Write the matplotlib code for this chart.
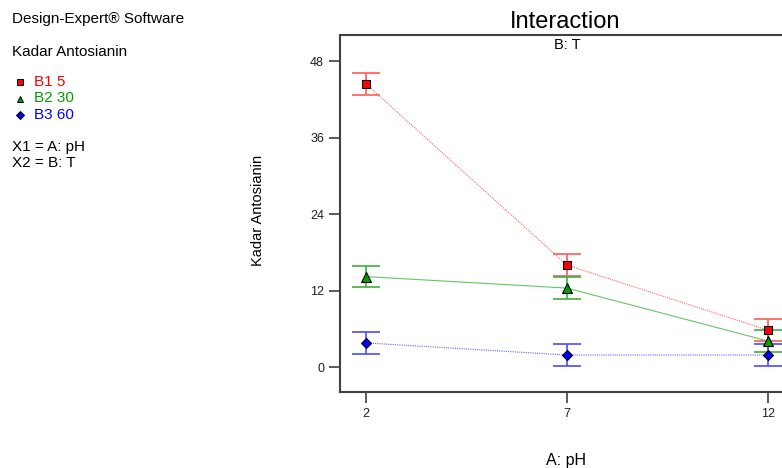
import matplotlib.pyplot as plt
import numpy as np

plt.rcParams['font.family'] = ['Liberation Sans', 'DejaVu Sans']

# data
ph = [2, 7, 12]
b1_5 = [44.4, 16.0, 5.8]
b2_30 = [14.2, 12.4, 4.1]
b3_60 = [3.8, 1.9, 1.9]
err = 1.7
yticks = [0, 12, 24, 36, 48]

series = [
    ('B1 5', b1_5, 's', '#ff0000', '#ff5a5a', (0, (1, 1))),
    ('B2 30', b2_30, '^', '#00a000', '#40b040', '-'),
    ('B3 60', b3_60, 'D', '#0000ff', '#4a4aff', (0, (1, 1))),
]
msize = {'s': 6, '^': 7, 'D': 5}

fig = plt.figure(figsize=(7.82, 4.68), dpi=100)
W, H = 782, 468
ax = fig.add_axes([340 / W, (H - 392) / H, (794 - 340) / W, (392 - 35) / H])

for name, vals, mk, col, ecol, ls in series:
    ax.plot(ph, vals, linestyle=ls, color=col, linewidth=0.8, alpha=0.6, zorder=2)
    ax.errorbar(ph, vals, yerr=err, fmt='none', ecolor=ecol, elinewidth=1.2,
                capsize=10, capthick=1.2, zorder=3)
    ax.plot(ph, vals, linestyle='none', marker=mk, markersize=msize[mk],
            markerfacecolor=col, markeredgecolor='black', markeredgewidth=0.8, zorder=4)

ax.set_xlim(1.35, 12.65)
ax.set_ylim(-3.9, 52.1)
ax.set_xticks(ph)
ax.set_yticks(yticks)
for s in ax.spines.values():
    s.set_color('#404040')
    s.set_linewidth(1.5)
ax.tick_params(axis='both', direction='out', length=8, width=1.2, color='#404040',
               labelsize=9, labelcolor='#202020')
ax.tick_params(axis='y', pad=3.5)

fig.text(565 / W, 1 - 22 / H, 'Interaction', ha='center', va='center', fontsize=17)
fig.text(567 / W, 1 - 45 / H, 'B: T', ha='center', va='center', fontsize=10.5)
fig.text(566 / W, 1 - 460 / H, 'A: pH', ha='center', va='center', fontsize=11.5)
fig.text(258 / W, 1 - 210 / H, 'Kadar Antosianin', ha='center', va='center',
         rotation=90, fontsize=10.5)

fig.text(12 / W, 1 - 19 / H, 'Design-Expert® Software', ha='left', va='center', fontsize=11)
fig.text(12 / W, 1 - 52 / H, 'Kadar Antosianin', ha='left', va='center', fontsize=11)
for i, (name, vals, mk, col, ecol, ls) in enumerate(series):
    y = 1 - (82 + i * 16.5) / H
    fig.lines.append(plt.Line2D([20 / W], [y], transform=fig.transFigure, marker=mk,
                                markersize=5 if mk != 'D' else 4.5, markerfacecolor=col,
                                markeredgecolor='black', markeredgewidth=0.7, linestyle='none'))
    fig.text(34 / W, y, name, color=col, ha='left', va='center', fontsize=11)
fig.text(12 / W, 1 - 147 / H, 'X1 = A: pH', ha='left', va='center', fontsize=11)
fig.text(12 / W, 1 - 163 / H, 'X2 = B: T', ha='left', va='center', fontsize=11)

fig.savefig('out.png', dpi=100)
